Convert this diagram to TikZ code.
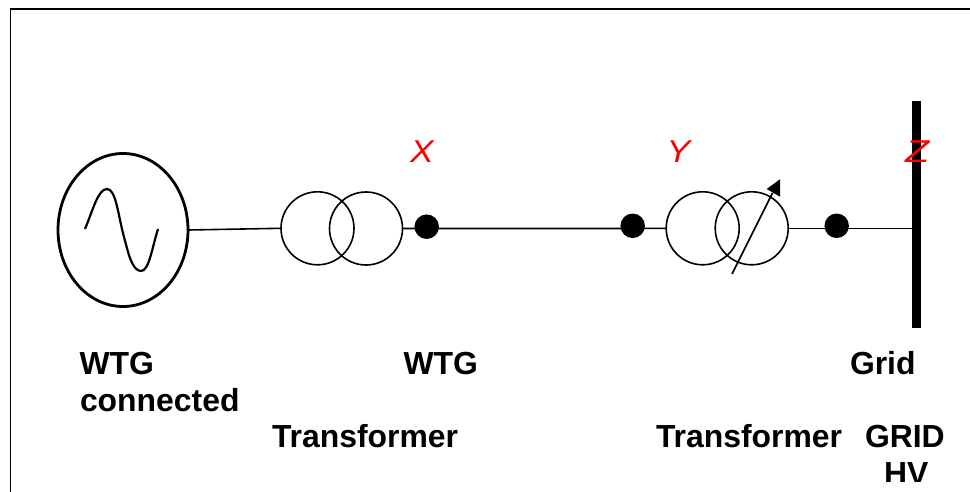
\documentclass[tikz,border=0pt]{standalone}
\usepackage{fontspec}
\setmainfont{Liberation Sans}
\usetikzlibrary{shapes.geometric}
\tikzset{
  x=1pt,y=-1pt,
  wire/.style={draw=black,line width=1.6pt},
  coil/.style={circle,draw=black,line width=1.6pt,minimum size=73pt,inner sep=0pt,outer sep=0pt},
  junction/.style={circle,fill=black,minimum size=24.5pt,inner sep=0pt,outer sep=0pt},
  gentor/.style={ellipse,draw=black,line width=2.8pt,minimum width=130pt,minimum height=153pt,inner sep=0pt,outer sep=0pt},
  busbar/.style={rectangle,fill=black,minimum width=8.5pt,minimum height=227pt,inner sep=0pt,outer sep=0pt},
  caption/.style={anchor=base west,inner sep=0pt,outer sep=0pt,font=\fontsize{31.9}{36}\selectfont\bfseries},
  point/.style={anchor=base west,inner sep=0pt,outer sep=0pt,text=red,font=\fontsize{31.6}{36}\selectfont\itshape}
}
\begin{document}
\begin{tikzpicture}
\useasboundingbox (0,0) rectangle (970,492);
% frame
\coordinate (fa) at (10.3,492);
\coordinate (fb) at (10.3,9);
\coordinate (fc) at (970,9);
\draw[line width=1.6pt] (fa) -- (fb) -- (fc);
% generator
\node[gentor] (gen) at (123,230) {};
\draw[line width=2.2pt,line cap=butt] (85,229) .. controls (93,210) and (98,189) .. (107,189)
  .. controls (116,189) and (118,215) .. (124,237)
  .. controls (128,252) and (132,271) .. (141,271)
  .. controls (149,271) and (152,248) .. (158,229);
% transformers
\node[coil] (t1a) at (317.5,228.3) {};
\node[coil] (t1b) at (366,228.5) {};
\node[coil] (t2a) at (702.7,228.3) {};
\node[coil] (t2b) at (751.7,228.3) {};
% junctions
\node[junction] (d1) at (426.7,226.7) {};
\node[junction] (d2) at (632.7,225.8) {};
\node[junction] (d3) at (836.7,225.8) {};
% bus
\node[busbar] (bus) at (916.3,214.3) {};
% connectors
\draw[wire] (gen.east) -- (t1a.west);
\draw[wire] (t1b.east) -- (d1 |- t1b.east) -- (d2 |- t1b.east) -- (t2a.west);
\draw[wire] (t2b.east) -- (d3 |- t2b.east) -- (bus.west |- t2b.east);
% tap arrow
\coordinate (ta) at (732,274);
\coordinate (tb) at (772.5,193);
\draw[line width=1.6pt] (ta) -- (tb);
\fill (780,179.3) -- (766.7,189) -- (780,196.7) -- cycle;
% point labels
\node[point] (lx) at (410,162.8) {\scalebox{1.12}[1]{X}};
\node[point] (ly) at (666.5,162.8) {\scalebox{1.12}[1]{Y}};
\node[point] (lz) at (905,162.8) {\scalebox{1.25}[1]{Z}};
% captions
\node[caption] (c1) at (79.5,374) {WTG};
\node[caption] (c2) at (80,411) {connected};
\node[caption] (c3) at (403.5,374) {WTG};
\node[caption] (c4) at (850,374) {Grid};
\node[caption] (c5) at (272,447.5) {Transformer};
\node[caption] (c6) at (656,447.5) {Transformer};
\node[caption] (c7) at (865,447.5) {GRID};
\begin{scope}
\clip (860,450) rectangle (970,481.7);
\node[caption] (c8) at (884,484) {HV};
\end{scope}
\end{tikzpicture}
\end{document}
